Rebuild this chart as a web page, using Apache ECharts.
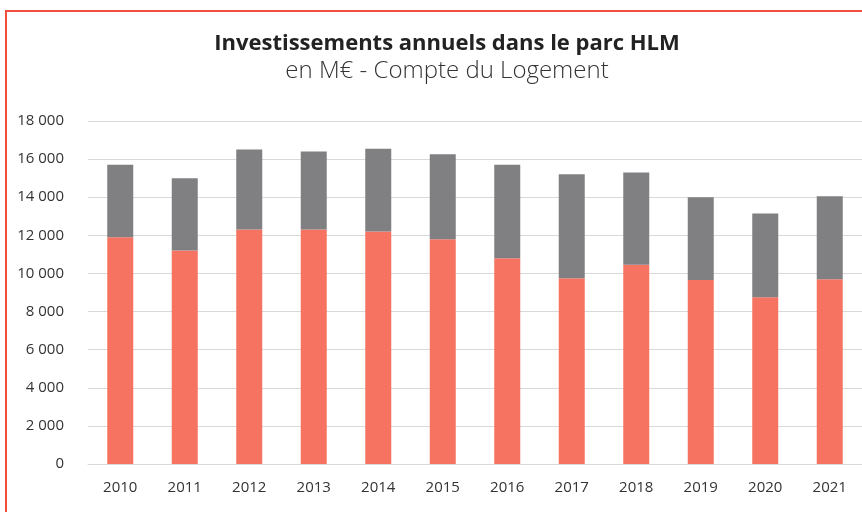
<!DOCTYPE html>
<html>
<head>
<meta charset="utf-8">
<script src="https://cdn.jsdelivr.net/npm/echarts@6/dist/echarts.min.js"></script>
<style>html,body{margin:0;padding:0;background:#fff;}#c{width:862px;height:512px;}</style>
</head>
<body>
<div id="c"></div>
<script>
const years = ['2010','2011','2012','2013','2014','2015','2016','2017','2018','2019','2020','2021'];
const totals = [15700, 15000, 16500, 16400, 16550, 16250, 15700, 15200, 15300, 14000, 13150, 14050];
const part1 = [11900, 11200, 12300, 12300, 12200, 11800, 10800, 9750, 10450, 9650, 8750, 9700];
const part2 = totals.map((t, i) => t - part1[i]);

const chart = echarts.init(document.getElementById('c'));
const fmt = v => String(v).replace(/\B(?=(\d{3})+(?!\d))/g, ' ');
chart.setOption({
  animation: false,
  title: {
    text: 'Investissements annuels dans le parc HLM',
    subtext: 'en M€ - Compte du Logement',
    left: 442, top: 28, textAlign: 'center', itemGap: 4,
    textStyle: { fontFamily: 'Open Sans', fontWeight: 'bold', fontSize: 22, color: '#222' },
    subtextStyle: { fontFamily: 'Open Sans', fontWeight: 300, fontSize: 24, color: '#333' }
  },
  graphic: [{
    type: 'rect', shape: { x: 6, y: 11, width: 900, height: 600 },
    style: { fill: 'none', stroke: '#F04E3E', lineWidth: 2 }, silent: true
  }],
  grid: { left: 88, right: -5, top: 121, bottom: 48 },
  xAxis: {
    type: 'category', data: years,
    axisTick: { show: false },
    axisLine: { lineStyle: { color: '#d9d9d9', width: 1 } },
    axisLabel: { fontFamily: 'Open Sans', fontSize: 15, color: '#333', margin: 16 }
  },
  yAxis: {
    type: 'value', min: 0, max: 18000, interval: 2000,
    axisLine: { show: false }, axisTick: { show: false },
    splitLine: { lineStyle: { color: '#d9d9d9', width: 1 } },
    axisLabel: { fontFamily: 'Open Sans', fontSize: 15, color: '#333', margin: 24, formatter: fmt }
  },
  series: [
    { type: 'bar', stack: 't', data: part1, barWidth: 26, itemStyle: { color: '#F67361' } },
    { type: 'bar', stack: 't', data: part2, barWidth: 26, itemStyle: { color: '#808083' } }
  ]
});
</script>
</body>
</html>
